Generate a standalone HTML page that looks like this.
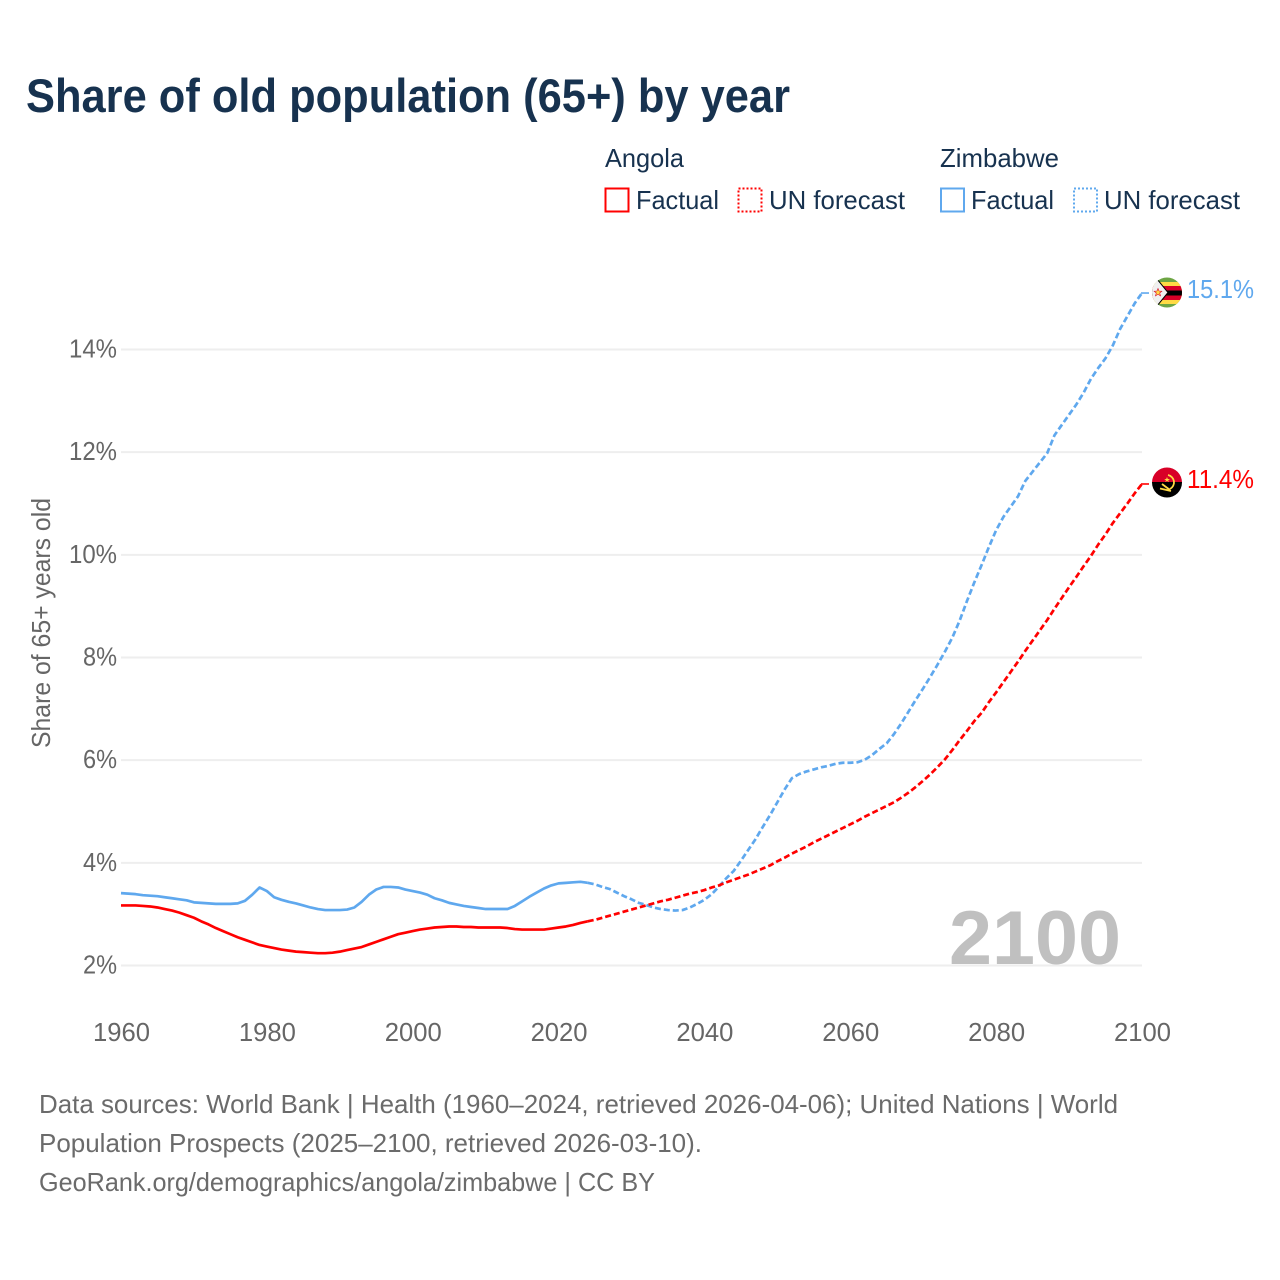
<!DOCTYPE html>
<html lang="en">
<head>
<meta charset="utf-8">
<title>Share of old population (65+) by year</title>
<style>
html,body{margin:0;padding:0;background:#fff;width:1280px;height:1280px;overflow:hidden}
svg{display:block;font-family:"Liberation Sans",Arial,sans-serif}
</style>
</head>
<body>
<svg id="chart" xmlns="http://www.w3.org/2000/svg" width="1280" height="1280" viewBox="0 0 1280 1280">
  <rect width="1280" height="1280" fill="#fff"/>
  <text x="26" y="112" font-size="47" font-weight="700" fill="#17324f" textLength="764" lengthAdjust="spacingAndGlyphs">Share of old population (65+) by year</text>

  <g font-size="26" fill="#17324f">
    <text x="605" y="167" textLength="79" lengthAdjust="spacingAndGlyphs">Angola</text>
    <text x="940" y="167" textLength="119" lengthAdjust="spacingAndGlyphs">Zimbabwe</text>
    <rect x="605.5" y="188.5" width="23" height="23" fill="none" stroke="#ff0000" stroke-width="2"/>
    <text x="636" y="209" textLength="83" lengthAdjust="spacingAndGlyphs">Factual</text>
    <rect x="738.5" y="188.5" width="23" height="23" fill="none" stroke="#ff0000" stroke-width="2" stroke-dasharray="2 2"/>
    <text x="769" y="209" textLength="136" lengthAdjust="spacingAndGlyphs">UN forecast</text>
    <rect x="941" y="188.5" width="23" height="23" fill="none" stroke="#5fa8ee" stroke-width="2"/>
    <text x="971" y="209" textLength="83" lengthAdjust="spacingAndGlyphs">Factual</text>
    <rect x="1074" y="188.5" width="23" height="23" fill="none" stroke="#5fa8ee" stroke-width="2" stroke-dasharray="2 2"/>
    <text x="1104" y="209" textLength="136" lengthAdjust="spacingAndGlyphs">UN forecast</text>
  </g>

  <g id="grid"></g>
  <g id="yticks" font-size="26" fill="#666"></g>
  <g id="xticks" font-size="26" fill="#666"></g>
  <text transform="translate(50,748) rotate(-90)" font-size="26" fill="#666" textLength="250" lengthAdjust="spacingAndGlyphs">Share of 65+ years old</text>

  <text x="949" y="964" font-size="76" font-weight="700" fill="#c0c0c0" textLength="172" lengthAdjust="spacingAndGlyphs">2100</text>

  <g id="series"></g>

  <defs>
    <clipPath id="clip-zw"><circle cx="1167" cy="292.5" r="15"/></clipPath>
    <clipPath id="clip-ao"><circle cx="1167" cy="482.5" r="15"/></clipPath>
  </defs>
  <g clip-path="url(#clip-zw)">
    <rect x="1152" y="277" width="30" height="31" fill="#6da544"/>
    <rect x="1152" y="282" width="30" height="22" fill="#ffda44"/>
    <rect x="1152" y="286" width="30" height="14" fill="#d80027"/>
    <rect x="1152" y="290.5" width="30" height="5" fill="#000"/>
    <polygon points="1150,279 1157,279 1168,292.5 1157,306 1150,306" fill="#f0f0f0" stroke="#000" stroke-width="1"/>
    <polygon points="1158,288.5 1159.1,291 1161.8,291.2 1159.7,293 1160.5,295.8 1158,294.3 1155.5,295.8 1156.3,293 1154.2,291.2 1156.9,291" fill="#ffda44" stroke="#d80027" stroke-width="0.6"/>
  </g>
  <g clip-path="url(#clip-ao)">
    <rect x="1152" y="467" width="30" height="16" fill="#d80027"/>
    <rect x="1152" y="482" width="30" height="16" fill="#000"/>
    <path d="M1168 475a7.5 7.5 0 0 1 2 14" fill="none" stroke="#ffda44" stroke-width="1.8"/>
    <path d="M1160 488.5l11 2.5M1162 484l8 6" fill="none" stroke="#ffda44" stroke-width="1.8"/>
    <polygon points="1167,477 1167.8,479 1170,479 1168.2,480.2 1169,482 1167,481 1165.2,482 1166,480.2 1164.2,479 1166.2,479" fill="#ffda44"/>
  </g>
  <text x="1187" y="298" font-size="26" fill="#5fa8ee" textLength="67" lengthAdjust="spacingAndGlyphs">15.1%</text>
  <text x="1187" y="488" font-size="26" fill="#ff0000" textLength="67" lengthAdjust="spacingAndGlyphs">11.4%</text>

  <g font-size="26" fill="#6b6b6b">
    <text x="39" y="1113" textLength="1079" lengthAdjust="spacingAndGlyphs">Data sources: World Bank | Health (1960–2024, retrieved 2026-04-06); United Nations | World</text>
    <text x="39" y="1152" textLength="663" lengthAdjust="spacingAndGlyphs">Population Prospects (2025–2100, retrieved 2026-03-10).</text>
    <text x="39" y="1191" textLength="616" lengthAdjust="spacingAndGlyphs">GeoRank.org/demographics/angola/zimbabwe | CC BY</text>
  </g>
</svg>
<script>
const yTicks = [2, 4, 6, 8, 10, 12, 14];
const xTicks = [1960, 1980, 2000, 2020, 2040, 2060, 2080, 2100];
const factualStart = 1960;
const forecastStart = 2024;
const angolaFactual = [3.17,3.17,3.17,3.16,3.15,3.13,3.10,3.07,3.03,2.98,2.93,2.86,2.80,2.73,2.67,2.61,2.55,2.50,2.45,2.40,2.37,2.34,2.31,2.29,2.27,2.26,2.25,2.24,2.24,2.25,2.27,2.30,2.33,2.36,2.41,2.46,2.51,2.56,2.61,2.64,2.67,2.70,2.72,2.74,2.75,2.76,2.76,2.75,2.75,2.74,2.74,2.74,2.74,2.73,2.71,2.70,2.70,2.70,2.70,2.72,2.74,2.76,2.79,2.83,2.86];
const angolaForecast = [2.86,2.89,2.93,2.97,3.01,3.05,3.09,3.13,3.17,3.21,3.25,3.28,3.32,3.36,3.40,3.43,3.47,3.52,3.56,3.62,3.67,3.72,3.77,3.83,3.89,3.95,4.03,4.10,4.18,4.25,4.32,4.40,4.47,4.54,4.61,4.68,4.75,4.82,4.90,4.97,5.04,5.11,5.18,5.27,5.37,5.48,5.60,5.73,5.87,6.02,6.20,6.39,6.57,6.76,6.92,7.13,7.32,7.52,7.72,7.92,8.13,8.33,8.53,8.73,8.95,9.16,9.37,9.57,9.78,9.98,10.20,10.40,10.62,10.81,11.00,11.20,11.38];
const zimbabweFactual = [3.41,3.40,3.39,3.37,3.36,3.35,3.33,3.31,3.29,3.27,3.23,3.22,3.21,3.20,3.20,3.20,3.21,3.26,3.38,3.52,3.45,3.33,3.28,3.24,3.21,3.17,3.13,3.10,3.08,3.08,3.08,3.09,3.13,3.24,3.38,3.48,3.53,3.53,3.52,3.48,3.45,3.42,3.38,3.31,3.27,3.22,3.19,3.16,3.14,3.12,3.10,3.10,3.10,3.10,3.16,3.25,3.34,3.42,3.50,3.56,3.60,3.61,3.62,3.63,3.61];
const zimbabweForecast = [3.61,3.58,3.53,3.49,3.42,3.35,3.29,3.22,3.18,3.13,3.10,3.08,3.07,3.08,3.13,3.20,3.28,3.39,3.54,3.70,3.84,4.04,4.25,4.46,4.70,4.93,5.18,5.43,5.65,5.73,5.78,5.82,5.86,5.89,5.93,5.95,5.95,5.96,6.01,6.10,6.22,6.33,6.51,6.72,6.95,7.18,7.40,7.63,7.87,8.12,8.39,8.72,9.10,9.46,9.80,10.15,10.48,10.74,10.94,11.14,11.44,11.62,11.80,11.98,12.33,12.53,12.73,12.93,13.16,13.43,13.64,13.83,14.08,14.40,14.65,14.90,15.10];

const SVG_NS = 'http://www.w3.org/2000/svg';
const RED = '#ff0000';
const BLUE = '#5fa8ee';

function xScale(year) { return 121 + (year - 1960) * (1142 - 121) / 140; }
function yScale(value) { return 965.5 - (value - 2) * (965.5 - 349.5) / 12; }

function pathFrom(values, startYear) {
  return values.map(function (v, i) {
    return (i ? 'L' : 'M') + xScale(startYear + i).toFixed(2) + ' ' + yScale(v).toFixed(2);
  }).join('');
}

const gridGroup = document.getElementById('grid');
const yGroup = document.getElementById('yticks');
const xGroup = document.getElementById('xticks');
const seriesGroup = document.getElementById('series');

yTicks.forEach(function (t) {
  const line = document.createElementNS(SVG_NS, 'line');
  
  
  line.setAttribute('x1', xScale(1960));
  line.setAttribute('x2', xScale(2100));
  line.setAttribute('y1', yScale(t));
  line.setAttribute('y2', yScale(t));
  line.setAttribute('stroke', '#eeeeee');
  line.setAttribute('stroke-width', '2');
  gridGroup.appendChild(line);

  const label = document.createElementNS(SVG_NS, 'text');
  
  
  label.setAttribute('x', 117);
  label.setAttribute('y', yScale(t) + 8);
  label.setAttribute('text-anchor', 'end');
  label.setAttribute('textLength', t >= 10 ? 48 : 34);
  label.setAttribute('lengthAdjust', 'spacingAndGlyphs');
  label.textContent = t + '%';
  yGroup.appendChild(label);
});

xTicks.forEach(function (t) {
  const label = document.createElementNS(SVG_NS, 'text');
  
  
  label.setAttribute('x', xScale(t) + 0.5);
  label.setAttribute('y', 1041);
  label.setAttribute('text-anchor', 'middle');
  label.setAttribute('textLength', 57);
  label.setAttribute('lengthAdjust', 'spacingAndGlyphs');
  label.textContent = t;
  xGroup.appendChild(label);
});

function drawSeries(name, values, startYear, color, dashed) {
  const p = document.createElementNS(SVG_NS, 'path');
  
  
  p.setAttribute('d', pathFrom(values, startYear));
  p.setAttribute('fill', 'none');
  p.setAttribute('stroke', color);
  p.setAttribute('stroke-width', '2.7');
  p.setAttribute('stroke-linejoin', 'round');
  if (dashed) p.setAttribute('stroke-dasharray', '6 3');
  seriesGroup.appendChild(p);
}

function drawConnector(name, lastValue, color) {
  const c = document.createElementNS(SVG_NS, 'line');
  
  
  c.setAttribute('x1', xScale(2100) - 1);
  c.setAttribute('x2', xScale(2100) + 7);
  c.setAttribute('y1', yScale(lastValue));
  c.setAttribute('y2', yScale(lastValue));
  c.setAttribute('stroke', color);
  c.setAttribute('stroke-width', '1.6');
  seriesGroup.appendChild(c);
}

drawSeries('line-zimbabwe-factual', zimbabweFactual, factualStart, BLUE, false);
drawSeries('line-zimbabwe-forecast', zimbabweForecast, forecastStart, BLUE, true);
drawSeries('line-angola-factual', angolaFactual, factualStart, RED, false);
drawSeries('line-angola-forecast', angolaForecast, forecastStart, RED, true);
drawConnector('connector-zimbabwe', zimbabweForecast[zimbabweForecast.length - 1], BLUE);
drawConnector('connector-angola', angolaForecast[angolaForecast.length - 1], RED);
</script>
</body>
</html>
